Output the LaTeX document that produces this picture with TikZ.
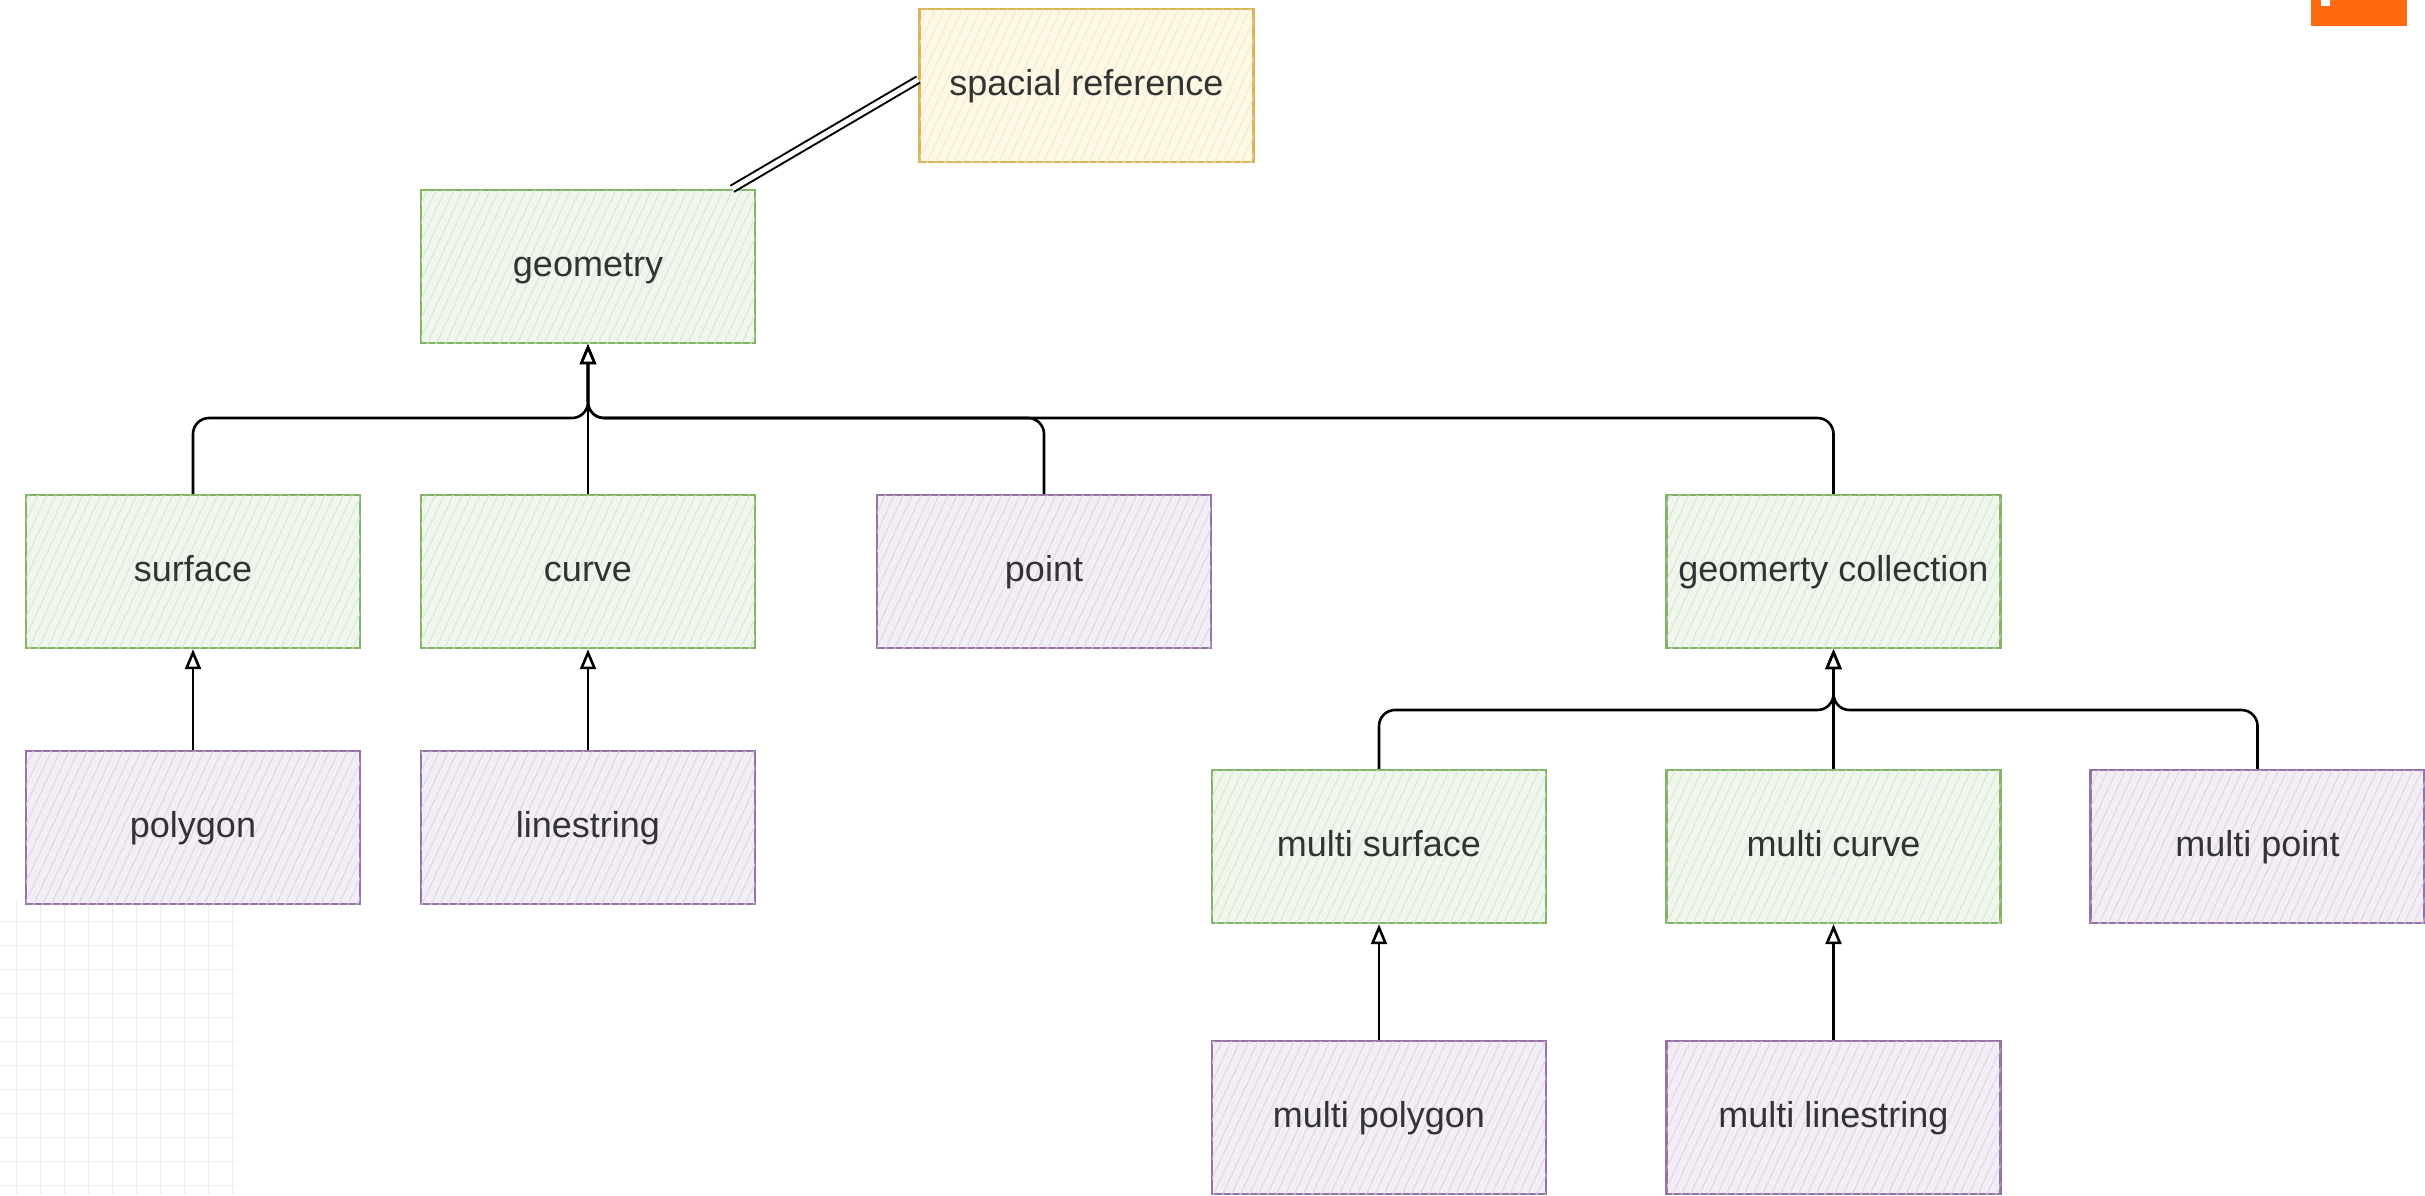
\documentclass[tikz,border=0pt]{standalone}
\usepackage{fontspec}
\setmainfont{Liberation Sans}
\usetikzlibrary{arrows.meta,patterns.meta}
\definecolor{gstroke}{HTML}{82B366}
\definecolor{gfill}{HTML}{D5E8D4}
\definecolor{pstroke}{HTML}{9673A6}
\definecolor{pfill}{HTML}{E1D5E7}
\definecolor{ystroke}{HTML}{D6B656}
\definecolor{yfill}{HTML}{FFF2CC}
\definecolor{txt}{HTML}{333333}
\definecolor{orng}{HTML}{FF6A10}
\tikzset{
  box/.style={line width=1.2pt, minimum width=167pt, minimum height=76.5pt, inner sep=0pt,
    text=txt, font=\fontsize{18}{22}\selectfont, align=center, text height=13pt, text depth=3.5pt},
  greenbox/.style={box, draw=gstroke, fill=gfill!40,
    postaction={pattern={Lines[angle=65,distance=4pt,line width=0.55pt]}, pattern color=gstroke!35}},
  purplebox/.style={box, draw=pstroke, fill=pfill!40,
    postaction={pattern={Lines[angle=65,distance=4pt,line width=0.55pt]}, pattern color=pstroke!35}},
  yellowbox/.style={box, draw=ystroke, fill=yfill!50,
    postaction={pattern={Lines[angle=65,distance=4pt,line width=0.55pt]}, pattern color=ystroke!35}},
  arr/.style={draw=black, line width=1.3pt, rounded corners=8pt,
    -{Triangle[open,length=10pt,width=8pt,fill=white]}},
  dline/.style={draw=black, double=white, double distance=2.5pt, line width=1pt},
  gridline/.style={draw=gray!14, line width=0.5pt}
}
\begin{document}
\begin{tikzpicture}[x=0.5pt,y=-0.5pt]
\useasboundingbox (0,0) rectangle (2425,1195);
% faint background grid
\foreach \gx in {16,40,...,232} \draw[gridline] (\gx,900) -- (\gx,1195);
\foreach \gy in {921,945,...,1185} \draw[gridline] (0,\gy) -- (237,\gy);
% orange badge
\fill[orng] (2311,0) rectangle (2407,26);
\fill[white] (2321,0) rectangle (2330,6);
% nodes
\node[yellowbox] (spatial) at (1086.5,85.5) {spacial reference};
\node[greenbox] (geometry) at (588,266.5) {geometry};
\node[greenbox] (surface) at (193,571.5) {surface};
\node[greenbox] (curve) at (588,571.5) {curve};
\node[purplebox] (point) at (1044,571.5) {point};
\node[greenbox] (gc) at (1833.5,571.5) {geomerty collection};
\node[purplebox] (polygon) at (193,827.5) {polygon};
\node[purplebox] (linestring) at (588,827.5) {linestring};
\node[greenbox] (msurface) at (1379,846.5) {multi surface};
\node[greenbox] (mcurve) at (1833.5,846.5) {multi curve};
\node[purplebox] (mpoint) at (2257.5,846.5) {multi point};
\node[purplebox] (mpolygon) at (1379,1117.5) {multi polygon};
\node[purplebox] (mlinestring) at (1833.5,1117.5) {multi linestring};
% connectors
\draw[dline] ([xshift=-12pt]geometry.north east) -- ([yshift=3pt]spatial.west);
\coordinate (j1) at (588,418);
\coordinate (j2) at (1833.5,710);
\draw[arr] (surface.north) |- (j1) -- (geometry.south);
\draw[arr] (point.north) |- (j1) -- (geometry.south);
\draw[arr] (gc.north) |- (j1) -- (geometry.south);
\draw[arr] (curve.north) -- (geometry.south);
\draw[arr] (msurface.north) |- (j2) -- (gc.south);
\draw[arr] (mpoint.north) |- (j2) -- (gc.south);
\draw[arr] (mcurve.north) -- (gc.south);
\draw[arr] (polygon.north) -- (surface.south);
\draw[arr] (linestring.north) -- (curve.south);
\draw[arr] (mpolygon.north) -- (msurface.south);
\draw[arr] (mlinestring.north) -- (mcurve.south);
\end{tikzpicture}
\end{document}
